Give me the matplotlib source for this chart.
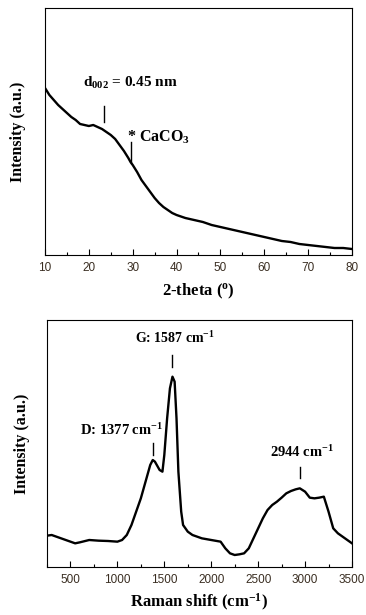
import matplotlib.pyplot as plt
from matplotlib.ticker import MultipleLocator

plt.rcParams['font.family'] = ['Liberation Serif', 'DejaVu Serif']
plt.rcParams['mathtext.fontset'] = 'custom'
plt.rcParams['mathtext.rm'] = 'Liberation Serif'
plt.rcParams['mathtext.bf'] = 'Liberation Serif:bold'
plt.rcParams['mathtext.default'] = 'regular'

# ---- XRD data ----
xrd_theta = [10, 11, 12, 13, 14, 15, 16, 17, 18, 19, 20, 21, 22, 23, 24, 25, 26, 27,
             28, 29, 29.5, 30, 31, 32, 33, 34, 35, 36, 37, 38, 39, 40, 42, 44, 46, 48,
             50, 52, 54, 56, 58, 60, 62, 64, 66, 68, 70, 72, 74, 76, 78, 80]
xrd_int = [167, 160, 155, 150, 146, 142, 138, 135, 131, 130, 129, 130, 128, 126, 123, 120,
           116, 110, 104, 97, 93, 90, 83, 75, 69, 63, 57, 52, 48, 45, 42, 40, 37, 35, 33, 30,
           28, 26, 24, 22, 20, 18, 16, 14, 13, 11, 10, 9, 8, 7, 7, 6]

# ---- Raman data ----
ram_x = [250, 300, 400, 500, 550, 600, 700, 800, 900, 1000, 1050, 1100, 1150, 1200, 1250,
         1300, 1350, 1377, 1400, 1450, 1480, 1500, 1530, 1560, 1587, 1610, 1630, 1650,
         1680, 1700, 1750, 1800, 1900, 2000, 2100, 2150, 2200, 2250, 2300, 2350, 2400,
         2450, 2500, 2550, 2600, 2650, 2700, 2750, 2800, 2850, 2900, 2944, 3000, 3050,
         3100, 3150, 3200, 3250, 3300, 3350, 3400, 3450, 3500]
ram_int = [94, 96, 86, 76, 71, 74, 81, 79, 78, 76, 81, 96, 126, 166, 206, 256, 306, 321,
           316, 291, 286, 336, 446, 536, 571, 556, 446, 286, 166, 126, 106, 96, 86, 81, 76,
           56, 41, 36, 38, 41, 56, 86, 116, 146, 171, 186, 196, 208, 221, 228, 233, 236,
           226, 208, 206, 208, 211, 166, 116, 101, 91, 81, 71]

tick_col = '#3a2e22'

fig = plt.figure(figsize=(3.66, 6.15), dpi=100)
W, H = 366, 615
ax1 = fig.add_axes([45/W, 1 - 255/H, 307/W, 247/H])
ax2 = fig.add_axes([47/W, 1 - 567/H, 305/W, 247/H])

ax1.plot(xrd_theta, xrd_int, color='black', lw=1.7)
ax1.set_xlim(10, 80)
ax1.set_ylim(0, 247)
ax1.xaxis.set_major_locator(MultipleLocator(10))
ax1.xaxis.set_minor_locator(MultipleLocator(5))
ax1.set_xlabel('2-theta ($^{o}$)', fontsize=12, fontweight='bold', labelpad=6)
ax1.set_ylabel('Intensity (a.u.)', fontsize=11.5, fontweight='bold', labelpad=14)
ax1.text(18.6, 172, 'd$_{002}$ = 0.45 nm', fontsize=11, fontweight='bold', va='center')
ax1.plot([23.4, 23.4], [133, 149], color='black', lw=1)
ax1.text(28.6, 118, '* CaCO$_3$', fontsize=11.5, fontweight='bold', va='center')
ax1.plot([29.6, 29.6], [92, 113], color='black', lw=1)

ax2.plot(ram_x, ram_int, color='black', lw=1.7)
ax2.set_xlim(250, 3500)
ax2.set_ylim(0, 741)
ax2.xaxis.set_major_locator(MultipleLocator(500))
ax2.xaxis.set_minor_locator(MultipleLocator(250))
ax2.set_xlabel('Raman shift (cm$^{-1}$)', fontsize=12, fontweight='bold', labelpad=4)
ax2.set_ylabel('Intensity (a.u.)', fontsize=11.5, fontweight='bold', labelpad=12)
ax2.text(1610, 686, 'G: 1587 cm$^{-1}$', fontsize=10, fontweight='bold', ha='center', va='center')
ax2.plot([1587, 1587], [601, 636], color='black', lw=1)
ax2.text(1050, 411, 'D: 1377 cm$^{-1}$', fontsize=10.5, fontweight='bold', ha='center', va='center')
ax2.plot([1377, 1377], [336, 371], color='black', lw=1)
ax2.text(2970, 346, '2944 cm$^{-1}$', fontsize=10.5, fontweight='bold', ha='center', va='center')
ax2.plot([2944, 2944], [266, 301], color='black', lw=1)

for ax in (ax1, ax2):
    ax.set_yticks([])
    ax.tick_params(axis='x', which='major', direction='in', length=4, width=0.8,
                   labelsize=8.5, labelcolor=tick_col, pad=5)
    ax.tick_params(axis='x', which='minor', direction='in', length=2, width=0.8)
    for lbl in ax.get_xticklabels():
        lbl.set_fontfamily('Liberation Sans')
    for s in ax.spines.values():
        s.set_linewidth(0.8)

fig.savefig('out.png', dpi=100)
